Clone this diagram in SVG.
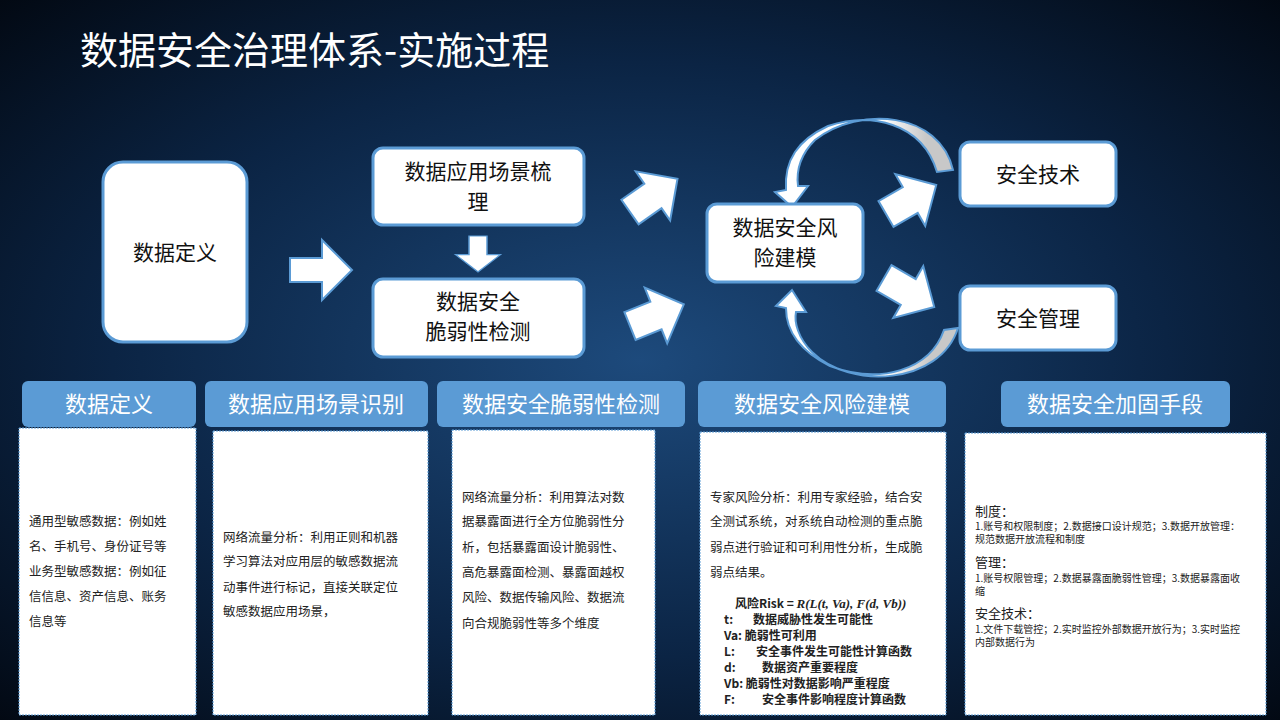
<svg xmlns="http://www.w3.org/2000/svg" width="1280" height="720" viewBox="0 0 1280 720">
<defs>
<radialGradient id="bg" cx="0.5" cy="0.5" r="0.75">
<stop offset="0" stop-color="#1d4a7c"/><stop offset="0.55" stop-color="#0b2444"/><stop offset="1" stop-color="#01050c"/>
</radialGradient>
<linearGradient id="cg" x1="0" y1="0" x2="1" y2="0"><stop offset="0.6" stop-color="#fff"/><stop offset="0.85" stop-color="#c8c8c8"/></linearGradient>
<path id="ba" d="M0 -12 L32 -12 L32 -30 L62 0 L32 30 L32 12 L0 12 Z"/>
<path id="bd" d="M0 -15 L28 -15 L28 -30 L58 0 L28 30 L28 15 L0 15 Z"/>
<style>
.t{font-family:"Noto Sans CJK SC","Liberation Sans",sans-serif}
.node{fill:#fff;stroke:#5b9bd5;stroke-width:3}
.nt{font-size:21px;fill:#111;text-anchor:middle}
.arr{fill:#fff;stroke:#5b9bd5;stroke-width:2}
.hd{fill:#5b9bd5}
.ht{font-size:22px;fill:#fff;text-anchor:middle}
.pn{fill:#fff;stroke:#5b9bd5;stroke-width:1;stroke-dasharray:2 1}
.p{font-size:12.5px;fill:#222}
.s{font-size:10px;fill:#222}
.f{font-size:12px;fill:#222;font-weight:600}
</style>
</defs>
<rect width="1280" height="720" fill="url(#bg)"/>
<text class="t" x="80" y="64" font-size="38" fill="#fff">数据安全治理体系-实施过程</text>
<g id="connectors">
<use href="#ba" class="arr" transform="translate(290,270)"/>
<use href="#ba" class="arr" transform="translate(478,236) rotate(90) scale(0.58,0.75)"/>
<use href="#bd" class="arr" transform="translate(630,212) rotate(-35)"/>
<use href="#bd" class="arr" transform="translate(630,326) rotate(-22)"/>
<use href="#bd" class="arr" transform="translate(886,214) rotate(-30)"/>
<use href="#bd" class="arr" transform="translate(884,278) rotate(30)"/>
<path class="arr" style="fill:url(#cg)" d="M953 170 C940 112,860 105,815 140 C800 155,796 170,798 186 L808 186 L792 207 L775 192 L786 190 C784 160,798 140,828 126 C870 112,922 122,937 172 Z"/>
<path class="arr" style="fill:url(#cg)" d="M958 328 C940 385,850 390,812 352 C798 338,794 322,796 312 L806 312 L792 290 L776 306 L786 308 C786 330,798 350,830 366 C880 385,930 370,944 330 Z"/>
</g>
<g id="n1"><rect class="node" x="103" y="162" width="144" height="180" rx="20"/><text class="t nt" x="175" y="260">数据定义</text></g>
<g id="n2"><rect class="node" x="373" y="148" width="211" height="77" rx="10"/><text class="t nt" x="478" y="179">数据应用场景梳</text><text class="t nt" x="478" y="209">理</text></g>
<g id="n3"><rect class="node" x="373" y="279" width="211" height="78" rx="10"/><text class="t nt" x="478" y="309">数据安全</text><text class="t nt" x="478" y="339">脆弱性检测</text></g>
<g id="n4"><rect class="node" x="707" y="204" width="156" height="78" rx="10"/><text class="t nt" x="785" y="235">数据安全风</text><text class="t nt" x="785" y="265">险建模</text></g>
<g id="n5"><rect class="node" x="960" y="142" width="156" height="64" rx="10"/><text class="t nt" x="1038" y="182">安全技术</text></g>
<g id="n6"><rect class="node" x="960" y="286" width="156" height="64" rx="10"/><text class="t nt" x="1038" y="326">安全管理</text></g>
<g id="h1"><rect class="hd" x="22" y="381" width="174" height="46" rx="6"/><text class="t ht" x="109" y="412">数据定义</text></g>
<g id="h2"><rect class="hd" x="205" y="381" width="223" height="46" rx="6"/><text class="t ht" x="316" y="412">数据应用场景识别</text></g>
<g id="h3"><rect class="hd" x="437" y="381" width="248" height="46" rx="6"/><text class="t ht" x="561" y="412">数据安全脆弱性检测</text></g>
<g id="h4"><rect class="hd" x="698" y="381" width="248" height="46" rx="6"/><text class="t ht" x="822" y="412">数据安全风险建模</text></g>
<g id="h5"><rect class="hd" x="1001" y="381" width="229" height="46" rx="6"/><text class="t ht" x="1115" y="412">数据安全加固手段</text></g>
<g id="p1"><rect class="pn" x="19" y="428" width="177" height="287"/>
<text class="t p" x="29" y="526">通用型敏感数据：例如姓</text><text class="t p" x="29" y="551">名、手机号、身份证号等</text><text class="t p" x="29" y="576">业务型敏感数据：例如征</text><text class="t p" x="29" y="601">信信息、资产信息、账务</text><text class="t p" x="29" y="626">信息等</text></g>
<g id="p2"><rect class="pn" x="213" y="431" width="215" height="284"/>
<text class="t p" x="223" y="542">网络流量分析：利用正则和机器</text><text class="t p" x="223" y="566">学习算法对应用层的敏感数据流</text><text class="t p" x="223" y="592">动事件进行标记，直接关联定位</text><text class="t p" x="223" y="616">敏感数据应用场景，</text></g>
<g id="p3"><rect class="pn" x="452" y="430" width="203" height="285"/>
<text class="t p" x="462" y="502">网络流量分析：利用算法对数</text><text class="t p" x="462" y="526">据暴露面进行全方位脆弱性分</text><text class="t p" x="462" y="552">析，包括暴露面设计脆弱性、</text><text class="t p" x="462" y="577">高危暴露面检测、暴露面越权</text><text class="t p" x="462" y="602">风险、数据传输风险、数据流</text><text class="t p" x="462" y="628">向合规脆弱性等多个维度</text></g>
<g id="p4"><rect class="pn" x="700" y="432" width="246" height="283"/>
<text class="t p" x="710" y="502">专家风险分析：利用专家经验，结合安</text><text class="t p" x="710" y="526">全测试系统，对系统自动检测的重点脆</text><text class="t p" x="710" y="552">弱点进行验证和可利用性分析，生成脆</text><text class="t p" x="710" y="577">弱点结果。</text>
<text class="t f" x="735" y="608">风险Risk = <tspan font-style="italic" font-family="Liberation Serif,serif" font-size="13">R(L(t, Va), F(d, Vb))</tspan></text>
<text class="t f" x="724" y="624">t:</text><text class="t f" x="753" y="624">数据威胁性发生可能性</text>
<text class="t f" x="724" y="640">Va: 脆弱性可利用</text>
<text class="t f" x="724" y="656">L:</text><text class="t f" x="756" y="656">安全事件发生可能性计算函数</text>
<text class="t f" x="724" y="672">d:</text><text class="t f" x="762" y="672">数据资产重要程度</text>
<text class="t f" x="724" y="688">Vb: 脆弱性对数据影响严重程度</text>
<text class="t f" x="724" y="704">F:</text><text class="t f" x="762" y="704">安全事件影响程度计算函数</text></g>
<g id="p5"><rect class="pn" x="965" y="433" width="301" height="282"/>
<text class="t" x="975" y="516" font-size="13" fill="#222">制度：</text>
<text class="t s" x="975" y="530">1.账号和权限制度；2.数据接口设计规范；3.数据开放管理：</text><text class="t s" x="975" y="543">规范数据开放流程和制度</text>
<text class="t" x="975" y="567" font-size="13" fill="#222">管理：</text>
<text class="t s" x="975" y="582">1.账号权限管理；2.数据暴露面脆弱性管理；3.数据暴露面收</text><text class="t s" x="975" y="595">缩</text>
<text class="t" x="975" y="618" font-size="13" fill="#222">安全技术：</text>
<text class="t s" x="975" y="633">1.文件下载管控；2.实时监控外部数据开放行为；3.实时监控</text><text class="t s" x="975" y="646">内部数据行为</text></g>
</svg>
